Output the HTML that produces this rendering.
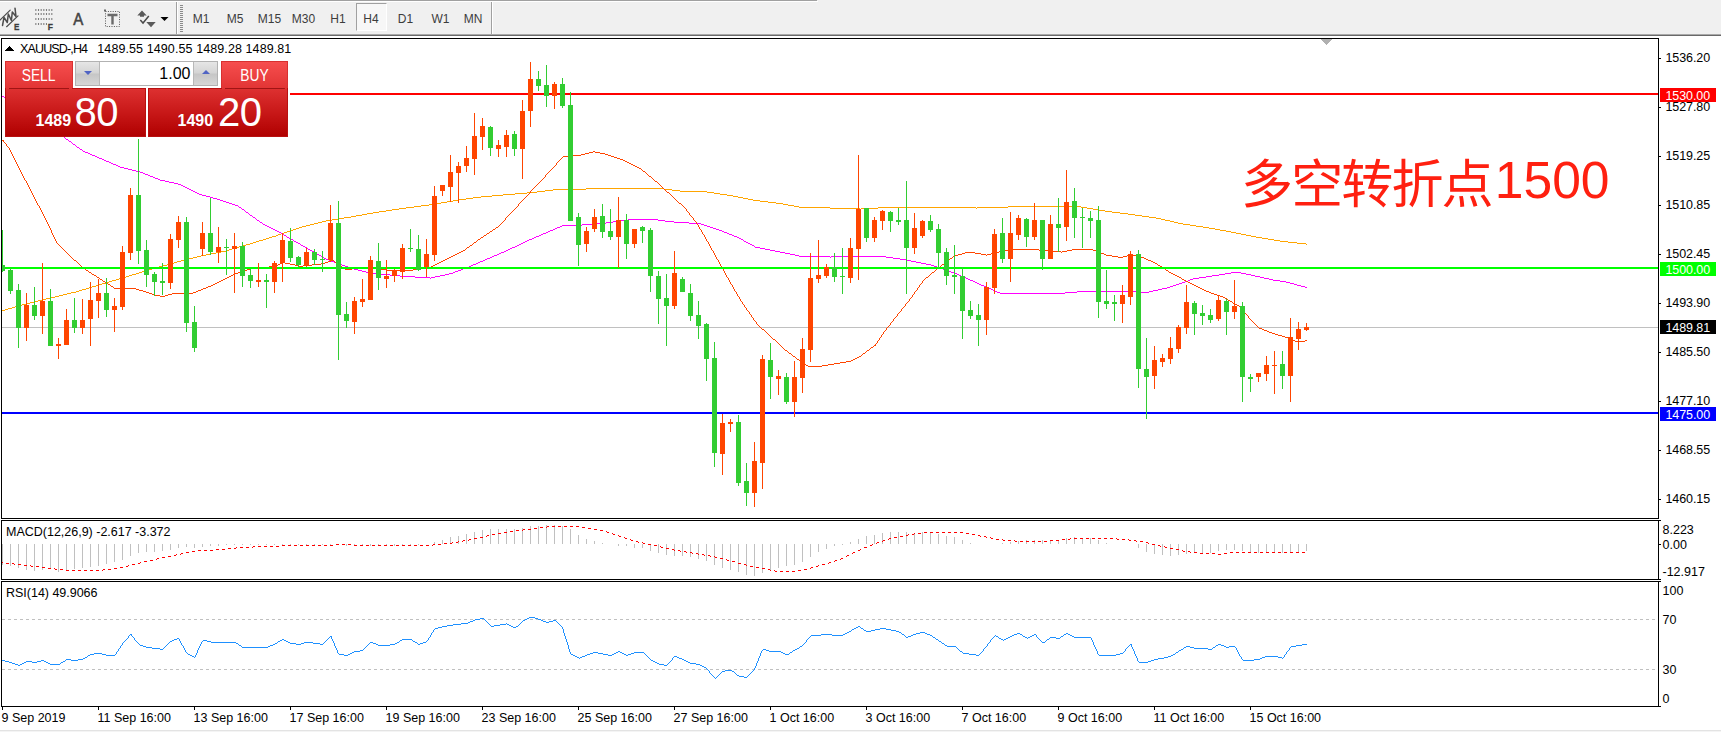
<!DOCTYPE html>
<html><head><meta charset="utf-8"><title>XAUUSD H4</title>
<style>
html,body{margin:0;padding:0;background:#fff;}
body{width:1721px;height:732px;overflow:hidden;position:relative;font-family:"Liberation Sans","Noto Sans CJK SC",sans-serif;}
#tb{position:absolute;left:0;top:0;width:1721px;height:34px;background:#f0f0f0;}
#tb .l0{position:absolute;left:0;top:0;width:817px;height:1px;background:#a0a0a0;}
#tb .l1{position:absolute;left:0;top:1px;width:818px;height:1px;background:#fff;}
#tbb1{position:absolute;left:0;top:34px;width:1721px;height:1px;background:#a9a9a9;}
#tbb2{position:absolute;left:0;top:35px;width:1721px;height:1px;background:#696969;}
.tf{position:absolute;top:12px;height:14px;line-height:14px;font-size:12px;color:#3c3c3c;text-align:center;width:34px;}
#h4b{position:absolute;left:356px;top:3px;width:31px;height:28px;border:1px solid;border-color:#a0a0a0 #fff #fff #a0a0a0;background:#f7f7f7;box-sizing:border-box;}
.sep{position:absolute;top:2px;width:1px;height:32px;background:#a0a0a0;}
.sepw{position:absolute;top:2px;width:1px;height:32px;background:#fff;}
#chart{position:absolute;left:0;top:0;}
text{font-family:"Liberation Sans","Noto Sans CJK SC",sans-serif;font-size:12.5px;fill:#000;}
#oct{position:absolute;left:5px;top:61px;width:283px;height:76px;}
#oct div{position:absolute;box-sizing:border-box;}
.btn{color:#fff;font-size:16px;text-align:center;line-height:27px;height:27px;top:0;background:linear-gradient(#f64e4e,#e23535);border:1px solid #d83030;border-bottom:none;}
.pr{top:27px;height:49px;background:linear-gradient(#dd3030,#c81818 50%,#b00000);border:1px solid #b81010;color:#fff;}
.sm{font-size:16px;font-weight:bold;bottom:8.8px;line-height:15px;}
.bg{font-size:40px;bottom:4.6px;line-height:40px;letter-spacing:-0.6px;}
#cn{position:absolute;left:1241px;top:149px;font-size:52px;line-height:72px;color:#ff2010;white-space:nowrap;letter-spacing:-1.85px;}
#cn span{font-size:51.6px;letter-spacing:0;margin-left:3px;position:relative;top:-5px}
</style></head><body>

<div id="tb"><div class="l0"></div><div class="l1"></div>
<svg width="180" height="34" style="position:absolute;left:0;top:0" fill="none">
<g stroke="#4c4c4c" stroke-width="1.2" stroke-linecap="round">
<path d="M0 20 L10.2 10.1 M6.6 26.7 L18 15.9"/>
<path d="M2.5 25.5 L4 17.3 L7.3 22.5 L8.3 14 L11.4 20.5 L12.3 12 L16 16.5 L15 8.2" stroke-width="1.5" stroke-linejoin="round"/>
</g>
<text x="14" y="29.8" textLength="5.4" lengthAdjust="spacingAndGlyphs" style="font-size:9.5px;font-weight:bold;fill:#3c3c3c;stroke:#3c3c3c;stroke-width:0.3">E</text>
<g stroke="#5a5a5a" stroke-width="1.5" stroke-dasharray="1.1,1.56">
<path d="M35.3 10 H52.5 M35.3 14 H52.5 M35.3 19 H52.5 M35.3 24 H47"/>
</g>
<text x="47.8" y="29.8" textLength="5.2" lengthAdjust="spacingAndGlyphs" style="font-size:9.5px;font-weight:bold;fill:#3c3c3c;stroke:#3c3c3c;stroke-width:0.3">F</text>
<text x="73.2" y="24.7" textLength="10" lengthAdjust="spacingAndGlyphs" style="font-size:16px;fill:#444;stroke:#444;stroke-width:0.55">A</text>
<rect x="105.5" y="11.5" width="14" height="15" stroke="#555" stroke-dasharray="1,1.4"/>
<rect x="104" y="9.5" width="2" height="2" fill="#666"/>
<path d="M107.5 15 H117.5 M112.5 15 V24.5" stroke="#6a6a6a" stroke-width="2.4"/>
<path d="M142 10.5 L146.7 15.5 H144 V16.7 H140 V15.5 H137.3 Z" fill="#5a5a5a"/>
<path d="M151 27.3 L155.7 22 H146.3 Z" fill="#5a5a5a"/>
<path d="M140.3 20 L143 23 L148.8 16" stroke="#4a4a4a" stroke-width="1.5"/>
<path d="M160.5 17 H168.5 L164.5 21 Z" fill="#000"/>
</svg>
<div class="sep" style="left:176px"></div><div class="sepw" style="left:177px"></div>
<div style="position:absolute;left:180px;top:5px;width:3px;height:28px;background:repeating-linear-gradient(#8a8a8a 0 1px,#f0f0f0 1px 2px)"></div>
<div id="h4b"></div>
<div class="tf" style="left:184px">M1</div>
<div class="tf" style="left:218px">M5</div>
<div class="tf" style="left:252.5px">M15</div>
<div class="tf" style="left:286.5px">M30</div>
<div class="tf" style="left:321px">H1</div>
<div class="tf" style="left:354px">H4</div>
<div class="tf" style="left:388.5px">D1</div>
<div class="tf" style="left:423.5px">W1</div>
<div class="tf" style="left:456px">MN</div>
<div class="sep" style="left:491px"></div><div class="sepw" style="left:492px"></div>
</div><div id="tbb1"></div><div id="tbb2"></div>
<svg id="chart" width="1721" height="732" viewBox="0 0 1721 732">
<g shape-rendering="crispEdges">
<rect x="2" y="327" width="1657" height="1" fill="#c0c0c0"/>
</g>
<path d="M2 310.5h3M5 309.5h3M8 308.5h4M12 307.5h3M15 306.5h4M19 305.5h3M22 304.5h4M26 303.5h4M30 302.5h4M34 301.5h4M38 300.5h4M42 299.5h4M46 298.5h5M51 297.5h4M55 296.5h4M59 295.5h4M63 294.5h4M67 293.5h4M71 292.5h5M76 291.5h3M79 290.5h3M82 289.5h4M86 288.5h3M89 287.5h3M92 286.5h4M96 285.5h3M99 284.5h3M102 283.5h4M106 282.5h3M109 281.5h3M112 280.5h4M116 279.5h3M119 278.5h3M122 277.5h4M126 276.5h3M129 275.5h3M132 274.5h4M136 273.5h3M139 272.5h3M142 271.5h4M146 270.5h3M149 269.5h3M152 268.5h4M156 267.5h3M159 266.5h4M163 265.5h4M167 264.5h3M170 263.5h4M174 262.5h3M177 261.5h4M181 260.5h4M185 259.5h4M189 258.5h4M193 257.5h4M197 256.5h4M201 255.5h5M206 254.5h5M211 253.5h5M216 252.5h5M221 251.5h5M226 250.5h3M229 249.5h3M232 248.5h4M236 247.5h3M239 246.5h4M243 245.5h3M246 244.5h4M250 243.5h3M253 242.5h3M256 241.5h3M259 240.5h4M263 239.5h3M266 238.5h3M269 237.5h3M272 236.5h4M276 235.5h2M278 234.5h3M281 233.5h3M284 232.5h3M287 231.5h3M290 230.5h3M293 229.5h3M296 228.5h3M299 227.5h3M302 226.5h4M306 225.5h4M310 224.5h4M314 223.5h4M318 222.5h4M322 221.5h4M326 220.5h6M332 219.5h6M338 218.5h6M344 217.5h7M351 216.5h5M356 215.5h6M362 214.5h5M367 213.5h6M373 212.5h6M379 211.5h7M386 210.5h6M392 209.5h7M399 208.5h7M406 207.5h8M414 206.5h7M421 205.5h8M429 204.5h6M435 203.5h6M441 202.5h6M447 201.5h6M453 200.5h6M459 199.5h7M466 198.5h7M473 197.5h8M481 196.5h11M492 195.5h11M503 194.5h12M515 193.5h12M527 192.5h10M537 191.5h8M545 190.5h8M553 189.5h33M586 188.5h78M664 189.5h8M672 190.5h8M680 191.5h27M707 192.5h7M714 193.5h6M720 194.5h7M727 195.5h6M733 196.5h5M738 197.5h5M743 198.5h5M748 199.5h5M753 200.5h7M760 201.5h8M768 202.5h8M776 203.5h7M783 204.5h5M788 205.5h6M794 206.5h5M799 207.5h31M830 208.5h30M860 209.5h1M861 208.5h17M878 207.5h98M976 208.5h1M977 207.5h31M1008 206.5h73M1081 207.5h6M1087 208.5h6M1093 209.5h6M1099 210.5h6M1105 211.5h7M1112 212.5h8M1120 213.5h8M1128 214.5h7M1135 215.5h7M1142 216.5h7M1149 217.5h7M1156 218.5h5M1161 219.5h4M1165 220.5h5M1170 221.5h4M1174 222.5h4M1178 223.5h5M1183 224.5h7M1190 225.5h6M1196 226.5h7M1203 227.5h6M1209 228.5h6M1215 229.5h5M1220 230.5h6M1226 231.5h5M1231 232.5h5M1236 233.5h5M1241 234.5h5M1246 235.5h5M1251 236.5h5M1256 237.5h6M1262 238.5h6M1268 239.5h6M1274 240.5h6M1280 241.5h8M1288 242.5h9M1297 243.5h9M1306 244.5h1" fill="none" stroke="#FFA500" stroke-width="1" shape-rendering="crispEdges" />
<path d="M2 96.5h2M4 97.5h1M5 98.5h2M7 99.5h1M8 100.5h2M10 101.5h1M11 102.5h2M13 103.5h1M14 104.5h2M16 105.5h1M17 106.5h2M19 107.5h1M20 108.5h2M22 109.5h1M23 110.5h2M25 111.5h1M26 112.5h2M28 113.5h1M29 114.5h2M31 115.5h1M32 116.5h2M34 117.5h1M35 118.5h2M37 119.5h1M38 120.5h2M40 121.5h1M41 122.5h2M43 123.5h1M44 124.5h2M46 125.5h1M47 126.5h2M49 127.5h1M50 128.5h2M52 129.5h1M53 130.5h2M55 131.5h1M56 132.5h2M58 133.5h1M59 134.5h2M61 135.5h1M62 136.5h2M64 137.5h1M65 138.5h1M66 139.5h2M68 140.5h1M69 141.5h2M71 142.5h1M72 143.5h1M73 144.5h2M75 145.5h1M76 146.5h1M77 147.5h2M79 148.5h1M80 149.5h2M82 150.5h1M83 151.5h2M85 152.5h3M88 153.5h2M90 154.5h2M92 155.5h3M95 156.5h2M97 157.5h2M99 158.5h3M102 159.5h2M104 160.5h2M106 161.5h3M109 162.5h2M111 163.5h2M113 164.5h3M116 165.5h2M118 166.5h2M120 167.5h4M124 168.5h4M128 169.5h4M132 170.5h4M136 171.5h4M140 172.5h3M143 173.5h2M145 174.5h3M148 175.5h2M150 176.5h3M153 177.5h2M155 178.5h3M158 179.5h2M160 180.5h5M165 181.5h4M169 182.5h5M174 183.5h4M178 184.5h3M181 185.5h2M183 186.5h2M185 187.5h2M187 188.5h2M189 189.5h2M191 190.5h2M193 191.5h2M195 192.5h2M197 193.5h2M199 194.5h3M202 195.5h4M206 196.5h4M210 197.5h3M213 198.5h4M217 199.5h3M220 200.5h3M223 201.5h3M226 202.5h3M229 203.5h3M232 204.5h3M235 205.5h3M238 206.5h1M239 207.5h2M241 208.5h1M242 209.5h2M244 210.5h1M245 211.5h1M246 212.5h2M248 213.5h1M249 214.5h1M250 215.5h2M252 216.5h1M253 217.5h2M255 218.5h1M256 219.5h1M257 220.5h2M259 221.5h1M260 222.5h2M262 223.5h1M263 224.5h2M265 225.5h2M267 226.5h2M269 227.5h2M271 228.5h2M273 229.5h2M275 230.5h2M277 231.5h2M279 232.5h2M281 233.5h1M282 234.5h2M284 235.5h2M286 236.5h1M287 237.5h2M289 238.5h2M291 239.5h2M293 240.5h1M294 241.5h2M296 242.5h2M298 243.5h2M300 244.5h1M301 245.5h2M303 246.5h2M305 247.5h2M307 248.5h1M308 249.5h2M310 250.5h2M312 251.5h2M314 252.5h1M315 253.5h2M317 254.5h2M319 255.5h2M321 256.5h1M322 257.5h2M324 258.5h2M326 259.5h3M329 260.5h2M331 261.5h3M334 262.5h2M336 263.5h3M339 264.5h3M342 265.5h3M345 266.5h3M348 267.5h2M350 268.5h4M354 269.5h4M358 270.5h4M362 271.5h4M366 272.5h4M370 273.5h10M380 274.5h10M390 275.5h10M400 276.5h15M415 277.5h15M430 278.5h1M431 277.5h4M435 276.5h5M440 275.5h5M445 274.5h4M449 273.5h4M453 272.5h2M455 271.5h3M458 270.5h3M461 269.5h2M463 268.5h3M466 267.5h3M469 266.5h2M471 265.5h2M473 264.5h3M476 263.5h2M478 262.5h2M480 261.5h3M483 260.5h2M485 259.5h2M487 258.5h3M490 257.5h2M492 256.5h2M494 255.5h3M497 254.5h2M499 253.5h2M501 252.5h3M504 251.5h2M506 250.5h2M508 249.5h2M510 248.5h2M512 247.5h3M515 246.5h2M517 245.5h2M519 244.5h2M521 243.5h2M523 242.5h2M525 241.5h2M527 240.5h2M529 239.5h3M532 238.5h2M534 237.5h2M536 236.5h3M539 235.5h2M541 234.5h2M543 233.5h3M546 232.5h2M548 231.5h2M550 230.5h3M553 229.5h2M555 228.5h2M557 227.5h3M560 226.5h2M562 225.5h20M582 224.5h12M594 223.5h12M606 222.5h7M613 221.5h8M621 220.5h7M628 219.5h30M658 220.5h7M665 221.5h9M674 222.5h15M689 223.5h12M701 224.5h3M704 225.5h3M707 226.5h3M710 227.5h3M713 228.5h3M716 229.5h3M719 230.5h3M722 231.5h2M724 232.5h3M727 233.5h2M729 234.5h3M732 235.5h2M734 236.5h3M737 237.5h2M739 238.5h2M741 239.5h2M743 240.5h1M744 241.5h2M746 242.5h2M748 243.5h2M750 244.5h2M752 245.5h2M754 246.5h1M755 247.5h5M760 248.5h5M765 249.5h5M770 250.5h5M775 251.5h5M780 252.5h5M785 253.5h5M790 254.5h5M795 255.5h4M799 256.5h31M830 257.5h1M831 256.5h55M886 257.5h7M893 258.5h7M900 259.5h6M906 260.5h5M911 261.5h5M916 262.5h5M921 263.5h5M926 264.5h5M931 265.5h3M934 266.5h3M937 267.5h3M940 268.5h3M943 269.5h3M946 270.5h3M949 271.5h2M951 272.5h3M954 273.5h3M957 274.5h2M959 275.5h2M961 276.5h3M964 277.5h2M966 278.5h2M968 279.5h2M970 280.5h3M973 281.5h2M975 282.5h2M977 283.5h2M979 284.5h2M981 285.5h3M984 286.5h2M986 287.5h2M988 288.5h3M991 289.5h2M993 290.5h2M995 291.5h2M997 292.5h3M1000 293.5h65M1065 292.5h12M1077 291.5h63M1140 292.5h9M1149 291.5h4M1153 290.5h5M1158 289.5h4M1162 288.5h5M1167 287.5h3M1170 286.5h3M1173 285.5h3M1176 284.5h3M1179 283.5h3M1182 282.5h3M1185 281.5h3M1188 280.5h2M1190 279.5h3M1193 278.5h6M1199 277.5h7M1206 276.5h6M1212 275.5h7M1219 274.5h6M1225 273.5h6M1231 272.5h10M1241 273.5h5M1246 274.5h5M1251 275.5h4M1255 276.5h5M1260 277.5h4M1264 278.5h5M1269 279.5h4M1273 280.5h7M1280 281.5h6M1286 282.5h4M1290 283.5h4M1294 284.5h3M1297 285.5h4M1301 286.5h4M1305 287.5h2" fill="none" stroke="#FF00FF" stroke-width="1" shape-rendering="crispEdges" />
<path d="M2 140.5h1M3.5 140v2M4 142.5h1M5 143.5h1M6.5 144v2M7 146.5h1M8 147.5h1M9.5 148v2M10.5 150v2M11.5 152v2M12.5 154v2M13.5 156v2M14.5 158v2M15.5 160v2M16.5 162v2M17.5 164v2M18.5 166v2M19.5 168v2M20.5 170v2M21.5 172v2M22.5 174v2M23.5 176v2M24.5 178v2M25 180.5h1M26.5 181v2M27.5 183v2M28.5 185v2M29.5 187v2M30.5 189v2M31.5 191v2M32.5 193v2M33.5 195v2M34.5 197v2M35.5 199v2M36.5 201v2M37.5 203v2M38 205.5h1M39.5 206v2M40.5 208v2M41.5 210v2M42.5 212v2M43.5 214v2M44.5 216v2M45.5 218v2M46.5 220v2M47.5 222v2M48.5 224v2M49.5 226v2M50.5 228v2M51.5 230v3M52.5 233v2M53.5 235v2M54.5 237v2M55.5 239v2M56.5 241v2M57 243.5h1M58 244.5h1M59 245.5h1M60 246.5h1M61 247.5h1M62 248.5h1M63 249.5h1M64 250.5h1M65 251.5h1M66 252.5h1M67 253.5h1M68 254.5h1M69 255.5h1M70 256.5h1M71 257.5h1M72 258.5h1M73 259.5h1M74 260.5h2M76 261.5h1M77 262.5h1M78 263.5h1M79 264.5h1M80 265.5h1M81 266.5h1M82 267.5h1M83 268.5h2M85 269.5h1M86 270.5h2M88 271.5h1M89 272.5h2M91 273.5h1M92 274.5h2M94 275.5h2M96 276.5h1M97 277.5h2M99 278.5h1M100 279.5h2M102 280.5h1M103 281.5h2M105 282.5h1M106 283.5h2M108 284.5h2M110 285.5h1M111 286.5h2M113 287.5h1M114 288.5h22M136 289.5h3M139 290.5h4M143 291.5h3M146 292.5h3M149 293.5h3M152 294.5h3M155 295.5h5M160 296.5h5M165 295.5h3M168 294.5h4M172 293.5h21M193 292.5h3M196 291.5h2M198 290.5h3M201 289.5h2M203 288.5h3M206 287.5h2M208 286.5h3M211 285.5h2M213 284.5h2M215 283.5h2M217 282.5h2M219 281.5h2M221 280.5h2M223 279.5h2M225 278.5h2M227 277.5h2M229 276.5h2M231 275.5h2M233 274.5h2M235 273.5h3M238 272.5h3M241 271.5h3M244 270.5h3M247 269.5h4M251 268.5h9M260 267.5h9M269 266.5h7M276 265.5h2M278 264.5h2M280 263.5h2M282 262.5h3M285 263.5h5M290 264.5h5M295 265.5h4M299 266.5h4M303 265.5h9M312 264.5h9M321 263.5h4M325 262.5h3M328 261.5h3M331 260.5h3M334 261.5h1M335 262.5h1M336 263.5h2M338 264.5h1M339 265.5h2M341 266.5h1M342 267.5h1M343 268.5h2M345 269.5h7M352 268.5h12M364 267.5h10M374 268.5h6M380 269.5h7M387 270.5h26M413 269.5h6M419 268.5h6M425 267.5h6M431 266.5h2M433 265.5h2M435 264.5h2M437 263.5h2M439 262.5h2M441 261.5h2M443 260.5h2M445 259.5h2M447 258.5h2M449 257.5h2M451 256.5h2M453 255.5h2M455 254.5h2M457 253.5h2M459 252.5h2M461 251.5h2M463 250.5h2M465 249.5h1M466 248.5h1M467 247.5h2M469 246.5h1M470 245.5h2M472 244.5h1M473 243.5h1M474 242.5h2M476 241.5h1M477 240.5h1M478 239.5h2M480 238.5h1M481 237.5h2M483 236.5h1M484 235.5h2M486 234.5h1M487 233.5h2M489 232.5h1M490 231.5h2M492 230.5h1M493 229.5h2M495 228.5h1M496 227.5h2M498 226.5h1M499 225.5h1M500 224.5h1M501 223.5h1M502 222.5h1M503 221.5h1M504 220.5h1M505.5 218v2M506 217.5h1M507 216.5h1M508 215.5h1M509 214.5h1M510 213.5h1M511 212.5h1M512 211.5h1M513 210.5h1M514 209.5h1M515 208.5h1M516 207.5h1M517 206.5h1M518.5 204v2M519 203.5h1M520 202.5h1M521 201.5h1M522 200.5h1M523 199.5h1M524 198.5h1M525 197.5h1M526 196.5h1M527 195.5h1M528 194.5h1M529 193.5h1M530.5 191v2M531 190.5h1M532 189.5h1M533 188.5h1M534 187.5h1M535 186.5h1M536 185.5h1M537 184.5h1M538 183.5h1M539 182.5h1M540 181.5h1M541 180.5h1M542 179.5h1M543 178.5h1M544 177.5h1M545.5 175v2M546 174.5h1M547 173.5h1M548 172.5h1M549 171.5h1M550 170.5h1M551 169.5h1M552 168.5h1M553 167.5h1M554 166.5h1M555 165.5h1M556.5 163v2M557 162.5h1M558 161.5h1M559 160.5h1M560 159.5h1M561 158.5h1M562 157.5h1M563 156.5h9M572 155.5h9M581 154.5h4M585 153.5h4M589 152.5h4M593 151.5h2M595 152.5h5M600 153.5h5M605 154.5h3M608 155.5h3M611 156.5h3M614 157.5h3M617 158.5h3M620 159.5h3M623 160.5h2M625 161.5h2M627 162.5h2M629 163.5h2M631 164.5h2M633 165.5h2M635 166.5h2M637 167.5h2M639 168.5h2M641 169.5h1M642 170.5h1M643 171.5h2M645 172.5h1M646 173.5h1M647 174.5h1M648 175.5h1M649 176.5h2M651 177.5h1M652 178.5h1M653 179.5h1M654 180.5h1M655 181.5h2M657 182.5h1M658 183.5h1M659 184.5h1M660 185.5h1M661 186.5h1M662 187.5h1M663 188.5h1M664 189.5h1M665 190.5h1M666 191.5h1M667 192.5h2M669 193.5h1M670 194.5h1M671 195.5h1M672 196.5h1M673 197.5h1M674 198.5h1M675 199.5h1M676 200.5h1M677 201.5h1M678 202.5h1M679 203.5h2M681 204.5h1M682 205.5h1M683 206.5h1M684 207.5h1M685 208.5h1M686.5 209v2M687 211.5h1M688 212.5h1M689.5 213v2M690 215.5h1M691 216.5h1M692 217.5h1M693.5 218v2M694 220.5h1M695 221.5h1M696.5 222v2M697 224.5h1M698.5 225v2M699.5 227v2M700 229.5h1M701.5 230v2M702.5 232v2M703 234.5h1M704.5 235v2M705.5 237v2M706.5 239v2M707 241.5h1M708.5 242v2M709.5 244v2M710.5 246v2M711.5 248v2M712 250.5h1M713.5 251v2M714.5 253v2M715.5 255v2M716.5 257v2M717 259.5h1M718.5 260v2M719.5 262v2M720.5 264v2M721.5 266v2M722 268.5h1M723.5 269v2M724.5 271v2M725.5 273v2M726.5 275v2M727 277.5h1M728.5 278v2M729.5 280v2M730.5 282v2M731 284.5h1M732.5 285v2M733.5 287v2M734.5 289v2M735 291.5h1M736.5 292v2M737.5 294v2M738 296.5h1M739.5 297v2M740.5 299v2M741 301.5h1M742.5 302v2M743 304.5h1M744.5 305v2M745 307.5h1M746.5 308v2M747 310.5h1M748 311.5h1M749.5 312v2M750 314.5h1M751.5 315v2M752 317.5h1M753.5 318v2M754 320.5h1M755 321.5h1M756.5 322v2M757 324.5h1M758 325.5h1M759 326.5h1M760 327.5h1M761 328.5h1M762 329.5h2M764 330.5h1M765 331.5h1M766 332.5h1M767 333.5h1M768 334.5h1M769 335.5h1M770 336.5h1M771 337.5h1M772 338.5h1M773 339.5h2M775 340.5h1M776 341.5h1M777 342.5h1M778 343.5h1M779 344.5h1M780 345.5h1M781 346.5h1M782 347.5h1M783 348.5h1M784 349.5h1M785 350.5h2M787 351.5h1M788 352.5h1M789 353.5h2M791 354.5h1M792 355.5h1M793 356.5h2M795 357.5h1M796 358.5h1M797 359.5h2M799 360.5h1M800 361.5h2M802 362.5h1M803 363.5h2M805 364.5h1M806 365.5h2M808 366.5h14M822 365.5h6M828 364.5h6M834 363.5h6M840 362.5h6M846 361.5h5M851 360.5h2M853 359.5h2M855 358.5h2M857 357.5h2M859 356.5h2M861 355.5h1M862 354.5h1M863 353.5h2M865 352.5h1M866 351.5h1M867 350.5h2M869 349.5h1M870 348.5h1M871 347.5h2M873 346.5h1M874 345.5h1M875.5 344v2M876 343.5h1M877.5 341v2M878 340.5h1M879.5 338v2M880 337.5h1M881.5 335v2M882 334.5h1M883.5 332v2M884 331.5h1M885 330.5h1M886.5 328v2M887 327.5h1M888 326.5h1M889 325.5h1M890.5 323v2M891 322.5h1M892 321.5h1M893.5 319v2M894 318.5h1M895 317.5h1M896 316.5h1M897.5 314v2M898 313.5h1M899 312.5h1M900 311.5h1M901.5 309v2M902 308.5h1M903 307.5h1M904 306.5h1M905.5 304v2M906 303.5h1M907 302.5h1M908 301.5h1M909.5 299v2M910 298.5h1M911 297.5h1M912.5 295v2M913 294.5h1M914.5 292v2M915 291.5h1M916 290.5h1M917.5 288v2M918 287.5h1M919.5 285v2M920 284.5h1M921 283.5h1M922.5 281v2M923 280.5h1M924 279.5h1M925 278.5h1M926 277.5h2M928 276.5h1M929 275.5h1M930 274.5h1M931 273.5h1M932 272.5h2M934 271.5h1M935 270.5h1M936 269.5h1M937 268.5h1M938 267.5h2M940 266.5h1M941 265.5h1M942 264.5h2M944 263.5h1M945 262.5h1M946 261.5h2M948 260.5h1M949 259.5h1M950 258.5h2M952 257.5h1M953 256.5h2M955 255.5h3M958 254.5h4M962 253.5h3M965 252.5h10M975 253.5h6M981 254.5h5M986 255.5h1M987 254.5h4M991 253.5h4M995 252.5h4M999 251.5h5M1004 250.5h8M1012 249.5h27M1039 250.5h10M1049 251.5h12M1061 252.5h1M1062 251.5h5M1067 250.5h5M1072 249.5h21M1093 250.5h3M1096 251.5h2M1098 252.5h3M1101 253.5h3M1104 254.5h2M1106 255.5h6M1112 256.5h6M1118 257.5h5M1123 256.5h4M1127 255.5h3M1130 254.5h3M1133 255.5h4M1137 256.5h3M1140 257.5h4M1144 258.5h2M1146 259.5h2M1148 260.5h3M1151 261.5h2M1153 262.5h2M1155 263.5h2M1157 264.5h1M1158 265.5h2M1160 266.5h2M1162 267.5h1M1163 268.5h2M1165 269.5h1M1166 270.5h2M1168 271.5h1M1169 272.5h2M1171 273.5h2M1173 274.5h2M1175 275.5h2M1177 276.5h2M1179 277.5h2M1181 278.5h1M1182 279.5h2M1184 280.5h2M1186 281.5h2M1188 282.5h2M1190 283.5h2M1192 284.5h2M1194 285.5h2M1196 286.5h2M1198 287.5h2M1200 288.5h2M1202 289.5h2M1204 290.5h2M1206 291.5h3M1209 292.5h2M1211 293.5h3M1214 294.5h3M1217 295.5h3M1220 296.5h3M1223 297.5h2M1225 298.5h2M1227 299.5h1M1228 300.5h2M1230 301.5h2M1232 302.5h1M1233 303.5h2M1235 304.5h2M1237 305.5h2M1239 306.5h1M1240.5 307v2M1241 309.5h1M1242 310.5h1M1243 311.5h1M1244 312.5h1M1245 313.5h1M1246 314.5h1M1247 315.5h1M1248.5 316v2M1249 318.5h1M1250 319.5h1M1251 320.5h1M1252 321.5h1M1253 322.5h1M1254 323.5h1M1255 324.5h1M1256 325.5h1M1257 326.5h1M1258 327.5h1M1259 328.5h3M1262 329.5h2M1264 330.5h3M1267 331.5h2M1269 332.5h3M1272 333.5h3M1275 334.5h3M1278 335.5h4M1282 336.5h3M1285 337.5h3M1288 338.5h2M1290 339.5h3M1293 340.5h2M1295 341.5h10M1305 340.5h2" fill="none" stroke="#FF4500" stroke-width="1" shape-rendering="crispEdges" />
<g shape-rendering="crispEdges">
<rect x="290" y="93" width="1369" height="2" fill="#FF0000"/>
<rect x="2" y="267" width="1657" height="2" fill="#00FF00"/>
<rect x="2" y="412" width="1657" height="2" fill="#0000FF"/>
<rect x="2" y="230" width="1" height="42" fill="#32CD32"/>
<rect x="2" y="265" width="3" height="6" fill="#32CD32"/>
<rect x="10" y="268" width="1" height="26" fill="#32CD32"/>
<rect x="8" y="270" width="5" height="21" fill="#32CD32"/>
<rect x="18" y="284" width="1" height="64" fill="#32CD32"/>
<rect x="16" y="290" width="5" height="38" fill="#32CD32"/>
<rect x="26" y="293" width="1" height="48" fill="#FF4500"/>
<rect x="24" y="305" width="5" height="23" fill="#FF4500"/>
<rect x="34" y="287" width="1" height="33" fill="#32CD32"/>
<rect x="32" y="305" width="5" height="11" fill="#32CD32"/>
<rect x="42" y="263" width="1" height="71" fill="#FF4500"/>
<rect x="40" y="301" width="5" height="15" fill="#FF4500"/>
<rect x="50" y="289" width="1" height="57" fill="#32CD32"/>
<rect x="48" y="301" width="5" height="45" fill="#32CD32"/>
<rect x="58" y="338" width="1" height="21" fill="#FF4500"/>
<rect x="56" y="344" width="5" height="2" fill="#FF4500"/>
<rect x="66" y="309" width="1" height="36" fill="#FF4500"/>
<rect x="64" y="320" width="5" height="25" fill="#FF4500"/>
<rect x="74" y="298" width="1" height="35" fill="#32CD32"/>
<rect x="72" y="320" width="5" height="8" fill="#32CD32"/>
<rect x="82" y="299" width="1" height="35" fill="#FF4500"/>
<rect x="80" y="320" width="5" height="8" fill="#FF4500"/>
<rect x="90" y="282" width="1" height="64" fill="#FF4500"/>
<rect x="88" y="300" width="5" height="19" fill="#FF4500"/>
<rect x="98" y="279" width="1" height="39" fill="#FF4500"/>
<rect x="96" y="293" width="5" height="8" fill="#FF4500"/>
<rect x="106" y="278" width="1" height="39" fill="#32CD32"/>
<rect x="104" y="293" width="5" height="17" fill="#32CD32"/>
<rect x="114" y="298" width="1" height="34" fill="#FF4500"/>
<rect x="112" y="306" width="5" height="4" fill="#FF4500"/>
<rect x="122" y="246" width="1" height="64" fill="#FF4500"/>
<rect x="120" y="252" width="5" height="55" fill="#FF4500"/>
<rect x="130" y="188" width="1" height="72" fill="#FF4500"/>
<rect x="128" y="195" width="5" height="58" fill="#FF4500"/>
<rect x="138" y="139" width="1" height="125" fill="#32CD32"/>
<rect x="136" y="195" width="5" height="56" fill="#32CD32"/>
<rect x="146" y="240" width="1" height="47" fill="#32CD32"/>
<rect x="144" y="250" width="5" height="25" fill="#32CD32"/>
<rect x="154" y="272" width="1" height="24" fill="#32CD32"/>
<rect x="152" y="274" width="5" height="8" fill="#32CD32"/>
<rect x="162" y="263" width="1" height="32" fill="#32CD32"/>
<rect x="160" y="281" width="5" height="2" fill="#32CD32"/>
<rect x="170" y="234" width="1" height="55" fill="#FF4500"/>
<rect x="168" y="239" width="5" height="44" fill="#FF4500"/>
<rect x="178" y="216" width="1" height="32" fill="#FF4500"/>
<rect x="176" y="222" width="5" height="18" fill="#FF4500"/>
<rect x="186" y="217" width="1" height="115" fill="#32CD32"/>
<rect x="184" y="222" width="5" height="101" fill="#32CD32"/>
<rect x="194" y="306" width="1" height="46" fill="#32CD32"/>
<rect x="192" y="322" width="5" height="26" fill="#32CD32"/>
<rect x="202" y="222" width="1" height="34" fill="#FF4500"/>
<rect x="200" y="233" width="5" height="16" fill="#FF4500"/>
<rect x="210" y="198" width="1" height="57" fill="#32CD32"/>
<rect x="208" y="233" width="5" height="19" fill="#32CD32"/>
<rect x="218" y="227" width="1" height="36" fill="#FF4500"/>
<rect x="216" y="247" width="5" height="5" fill="#FF4500"/>
<rect x="226" y="239" width="1" height="36" fill="#32CD32"/>
<rect x="224" y="247" width="5" height="1" fill="#32CD32"/>
<rect x="234" y="233" width="1" height="60" fill="#FF4500"/>
<rect x="232" y="246" width="5" height="3" fill="#FF4500"/>
<rect x="242" y="242" width="1" height="45" fill="#32CD32"/>
<rect x="240" y="246" width="5" height="30" fill="#32CD32"/>
<rect x="250" y="269" width="1" height="19" fill="#32CD32"/>
<rect x="248" y="275" width="5" height="6" fill="#32CD32"/>
<rect x="258" y="263" width="1" height="24" fill="#FF4500"/>
<rect x="256" y="280" width="5" height="2" fill="#FF4500"/>
<rect x="266" y="274" width="1" height="34" fill="#32CD32"/>
<rect x="264" y="280" width="5" height="2" fill="#32CD32"/>
<rect x="274" y="261" width="1" height="32" fill="#FF4500"/>
<rect x="272" y="263" width="5" height="19" fill="#FF4500"/>
<rect x="282" y="233" width="1" height="49" fill="#FF4500"/>
<rect x="280" y="240" width="5" height="23" fill="#FF4500"/>
<rect x="290" y="228" width="1" height="34" fill="#32CD32"/>
<rect x="288" y="241" width="5" height="17" fill="#32CD32"/>
<rect x="298" y="256" width="1" height="11" fill="#32CD32"/>
<rect x="296" y="257" width="5" height="8" fill="#32CD32"/>
<rect x="306" y="248" width="1" height="19" fill="#FF4500"/>
<rect x="304" y="252" width="5" height="13" fill="#FF4500"/>
<rect x="314" y="249" width="1" height="16" fill="#32CD32"/>
<rect x="312" y="252" width="5" height="8" fill="#32CD32"/>
<rect x="322" y="251" width="1" height="21" fill="#32CD32"/>
<rect x="320" y="259" width="5" height="1" fill="#32CD32"/>
<rect x="330" y="205" width="1" height="56" fill="#FF4500"/>
<rect x="328" y="223" width="5" height="37" fill="#FF4500"/>
<rect x="338" y="201" width="1" height="159" fill="#32CD32"/>
<rect x="336" y="223" width="5" height="92" fill="#32CD32"/>
<rect x="346" y="302" width="1" height="26" fill="#32CD32"/>
<rect x="344" y="314" width="5" height="7" fill="#32CD32"/>
<rect x="354" y="297" width="1" height="37" fill="#FF4500"/>
<rect x="352" y="301" width="5" height="21" fill="#FF4500"/>
<rect x="362" y="279" width="1" height="28" fill="#FF4500"/>
<rect x="360" y="299" width="5" height="3" fill="#FF4500"/>
<rect x="370" y="256" width="1" height="44" fill="#FF4500"/>
<rect x="368" y="260" width="5" height="40" fill="#FF4500"/>
<rect x="378" y="243" width="1" height="47" fill="#32CD32"/>
<rect x="376" y="261" width="5" height="17" fill="#32CD32"/>
<rect x="386" y="260" width="1" height="28" fill="#FF4500"/>
<rect x="384" y="276" width="5" height="3" fill="#FF4500"/>
<rect x="394" y="269" width="1" height="13" fill="#FF4500"/>
<rect x="392" y="270" width="5" height="6" fill="#FF4500"/>
<rect x="402" y="244" width="1" height="35" fill="#FF4500"/>
<rect x="400" y="248" width="5" height="24" fill="#FF4500"/>
<rect x="410" y="229" width="1" height="23" fill="#32CD32"/>
<rect x="408" y="248" width="5" height="1" fill="#32CD32"/>
<rect x="418" y="235" width="1" height="36" fill="#32CD32"/>
<rect x="416" y="249" width="5" height="21" fill="#32CD32"/>
<rect x="426" y="239" width="1" height="38" fill="#FF4500"/>
<rect x="424" y="254" width="5" height="13" fill="#FF4500"/>
<rect x="434" y="186" width="1" height="75" fill="#FF4500"/>
<rect x="432" y="196" width="5" height="59" fill="#FF4500"/>
<rect x="442" y="185" width="1" height="11" fill="#FF4500"/>
<rect x="440" y="185" width="5" height="6" fill="#FF4500"/>
<rect x="450" y="155" width="1" height="47" fill="#FF4500"/>
<rect x="448" y="172" width="5" height="15" fill="#FF4500"/>
<rect x="458" y="162" width="1" height="41" fill="#FF4500"/>
<rect x="456" y="166" width="5" height="7" fill="#FF4500"/>
<rect x="466" y="146" width="1" height="26" fill="#FF4500"/>
<rect x="464" y="158" width="5" height="8" fill="#FF4500"/>
<rect x="474" y="113" width="1" height="62" fill="#FF4500"/>
<rect x="472" y="136" width="5" height="23" fill="#FF4500"/>
<rect x="482" y="118" width="1" height="32" fill="#FF4500"/>
<rect x="480" y="126" width="5" height="11" fill="#FF4500"/>
<rect x="490" y="126" width="1" height="30" fill="#32CD32"/>
<rect x="488" y="127" width="5" height="21" fill="#32CD32"/>
<rect x="498" y="140" width="1" height="17" fill="#FF4500"/>
<rect x="496" y="145" width="5" height="4" fill="#FF4500"/>
<rect x="506" y="130" width="1" height="27" fill="#FF4500"/>
<rect x="504" y="135" width="5" height="12" fill="#FF4500"/>
<rect x="514" y="131" width="1" height="25" fill="#32CD32"/>
<rect x="512" y="134" width="5" height="15" fill="#32CD32"/>
<rect x="522" y="100" width="1" height="79" fill="#FF4500"/>
<rect x="520" y="111" width="5" height="38" fill="#FF4500"/>
<rect x="530" y="62" width="1" height="65" fill="#FF4500"/>
<rect x="528" y="79" width="5" height="32" fill="#FF4500"/>
<rect x="538" y="71" width="1" height="20" fill="#32CD32"/>
<rect x="536" y="79" width="5" height="7" fill="#32CD32"/>
<rect x="546" y="65" width="1" height="42" fill="#32CD32"/>
<rect x="544" y="85" width="5" height="11" fill="#32CD32"/>
<rect x="554" y="82" width="1" height="27" fill="#FF4500"/>
<rect x="552" y="84" width="5" height="12" fill="#FF4500"/>
<rect x="562" y="78" width="1" height="30" fill="#32CD32"/>
<rect x="560" y="84" width="5" height="22" fill="#32CD32"/>
<rect x="570" y="92" width="1" height="129" fill="#32CD32"/>
<rect x="568" y="105" width="5" height="116" fill="#32CD32"/>
<rect x="578" y="213" width="1" height="53" fill="#32CD32"/>
<rect x="576" y="217" width="5" height="28" fill="#32CD32"/>
<rect x="586" y="227" width="1" height="25" fill="#FF4500"/>
<rect x="584" y="231" width="5" height="13" fill="#FF4500"/>
<rect x="594" y="209" width="1" height="23" fill="#FF4500"/>
<rect x="592" y="217" width="5" height="12" fill="#FF4500"/>
<rect x="602" y="204" width="1" height="34" fill="#32CD32"/>
<rect x="600" y="216" width="5" height="16" fill="#32CD32"/>
<rect x="610" y="209" width="1" height="31" fill="#32CD32"/>
<rect x="608" y="231" width="5" height="6" fill="#32CD32"/>
<rect x="618" y="197" width="1" height="71" fill="#FF4500"/>
<rect x="616" y="220" width="5" height="17" fill="#FF4500"/>
<rect x="626" y="214" width="1" height="45" fill="#32CD32"/>
<rect x="624" y="220" width="5" height="24" fill="#32CD32"/>
<rect x="634" y="229" width="1" height="19" fill="#FF4500"/>
<rect x="632" y="229" width="5" height="15" fill="#FF4500"/>
<rect x="642" y="226" width="1" height="17" fill="#32CD32"/>
<rect x="640" y="227" width="5" height="4" fill="#32CD32"/>
<rect x="650" y="228" width="1" height="64" fill="#32CD32"/>
<rect x="648" y="230" width="5" height="46" fill="#32CD32"/>
<rect x="658" y="271" width="1" height="53" fill="#32CD32"/>
<rect x="656" y="276" width="5" height="23" fill="#32CD32"/>
<rect x="666" y="274" width="1" height="72" fill="#32CD32"/>
<rect x="664" y="298" width="5" height="8" fill="#32CD32"/>
<rect x="674" y="251" width="1" height="58" fill="#FF4500"/>
<rect x="672" y="273" width="5" height="33" fill="#FF4500"/>
<rect x="682" y="277" width="1" height="15" fill="#32CD32"/>
<rect x="680" y="279" width="5" height="13" fill="#32CD32"/>
<rect x="690" y="284" width="1" height="37" fill="#32CD32"/>
<rect x="688" y="293" width="5" height="23" fill="#32CD32"/>
<rect x="698" y="301" width="1" height="38" fill="#32CD32"/>
<rect x="696" y="315" width="5" height="11" fill="#32CD32"/>
<rect x="706" y="323" width="1" height="58" fill="#32CD32"/>
<rect x="704" y="324" width="5" height="35" fill="#32CD32"/>
<rect x="714" y="342" width="1" height="125" fill="#32CD32"/>
<rect x="712" y="358" width="5" height="95" fill="#32CD32"/>
<rect x="722" y="414" width="1" height="61" fill="#FF4500"/>
<rect x="720" y="423" width="5" height="31" fill="#FF4500"/>
<rect x="730" y="419" width="1" height="13" fill="#FF4500"/>
<rect x="728" y="422" width="5" height="2" fill="#FF4500"/>
<rect x="738" y="415" width="1" height="71" fill="#32CD32"/>
<rect x="736" y="422" width="5" height="61" fill="#32CD32"/>
<rect x="746" y="463" width="1" height="43" fill="#32CD32"/>
<rect x="744" y="481" width="5" height="12" fill="#32CD32"/>
<rect x="754" y="442" width="1" height="65" fill="#FF4500"/>
<rect x="752" y="461" width="5" height="32" fill="#FF4500"/>
<rect x="762" y="355" width="1" height="134" fill="#FF4500"/>
<rect x="760" y="359" width="5" height="104" fill="#FF4500"/>
<rect x="770" y="343" width="1" height="56" fill="#32CD32"/>
<rect x="768" y="360" width="5" height="17" fill="#32CD32"/>
<rect x="778" y="370" width="1" height="25" fill="#FF4500"/>
<rect x="776" y="376" width="5" height="3" fill="#FF4500"/>
<rect x="786" y="373" width="1" height="31" fill="#32CD32"/>
<rect x="784" y="377" width="5" height="25" fill="#32CD32"/>
<rect x="794" y="361" width="1" height="56" fill="#FF4500"/>
<rect x="792" y="377" width="5" height="25" fill="#FF4500"/>
<rect x="802" y="338" width="1" height="55" fill="#FF4500"/>
<rect x="800" y="349" width="5" height="29" fill="#FF4500"/>
<rect x="810" y="253" width="1" height="109" fill="#FF4500"/>
<rect x="808" y="278" width="5" height="72" fill="#FF4500"/>
<rect x="818" y="240" width="1" height="43" fill="#FF4500"/>
<rect x="816" y="275" width="5" height="4" fill="#FF4500"/>
<rect x="826" y="264" width="1" height="14" fill="#FF4500"/>
<rect x="824" y="267" width="5" height="9" fill="#FF4500"/>
<rect x="834" y="253" width="1" height="29" fill="#32CD32"/>
<rect x="832" y="267" width="5" height="10" fill="#32CD32"/>
<rect x="842" y="248" width="1" height="46" fill="#32CD32"/>
<rect x="840" y="276" width="5" height="1" fill="#32CD32"/>
<rect x="850" y="238" width="1" height="45" fill="#FF4500"/>
<rect x="848" y="248" width="5" height="30" fill="#FF4500"/>
<rect x="858" y="155" width="1" height="125" fill="#FF4500"/>
<rect x="856" y="209" width="5" height="40" fill="#FF4500"/>
<rect x="866" y="208" width="1" height="34" fill="#32CD32"/>
<rect x="864" y="208" width="5" height="30" fill="#32CD32"/>
<rect x="874" y="217" width="1" height="25" fill="#FF4500"/>
<rect x="872" y="220" width="5" height="18" fill="#FF4500"/>
<rect x="882" y="210" width="1" height="20" fill="#FF4500"/>
<rect x="880" y="211" width="5" height="10" fill="#FF4500"/>
<rect x="890" y="211" width="1" height="21" fill="#32CD32"/>
<rect x="888" y="212" width="5" height="9" fill="#32CD32"/>
<rect x="898" y="208" width="1" height="17" fill="#32CD32"/>
<rect x="896" y="220" width="5" height="2" fill="#32CD32"/>
<rect x="906" y="181" width="1" height="113" fill="#32CD32"/>
<rect x="904" y="220" width="5" height="28" fill="#32CD32"/>
<rect x="914" y="213" width="1" height="41" fill="#FF4500"/>
<rect x="912" y="228" width="5" height="20" fill="#FF4500"/>
<rect x="922" y="220" width="1" height="18" fill="#FF4500"/>
<rect x="920" y="221" width="5" height="15" fill="#FF4500"/>
<rect x="930" y="215" width="1" height="17" fill="#32CD32"/>
<rect x="928" y="221" width="5" height="9" fill="#32CD32"/>
<rect x="938" y="224" width="1" height="44" fill="#32CD32"/>
<rect x="936" y="229" width="5" height="24" fill="#32CD32"/>
<rect x="946" y="248" width="1" height="37" fill="#32CD32"/>
<rect x="944" y="252" width="5" height="24" fill="#32CD32"/>
<rect x="954" y="245" width="1" height="49" fill="#32CD32"/>
<rect x="952" y="275" width="5" height="2" fill="#32CD32"/>
<rect x="962" y="267" width="1" height="72" fill="#32CD32"/>
<rect x="960" y="276" width="5" height="35" fill="#32CD32"/>
<rect x="970" y="301" width="1" height="18" fill="#32CD32"/>
<rect x="968" y="310" width="5" height="6" fill="#32CD32"/>
<rect x="978" y="304" width="1" height="42" fill="#32CD32"/>
<rect x="976" y="315" width="5" height="5" fill="#32CD32"/>
<rect x="986" y="282" width="1" height="53" fill="#FF4500"/>
<rect x="984" y="287" width="5" height="33" fill="#FF4500"/>
<rect x="994" y="229" width="1" height="65" fill="#FF4500"/>
<rect x="992" y="234" width="5" height="54" fill="#FF4500"/>
<rect x="1002" y="218" width="1" height="45" fill="#32CD32"/>
<rect x="1000" y="233" width="5" height="26" fill="#32CD32"/>
<rect x="1010" y="212" width="1" height="70" fill="#FF4500"/>
<rect x="1008" y="233" width="5" height="26" fill="#FF4500"/>
<rect x="1018" y="215" width="1" height="25" fill="#FF4500"/>
<rect x="1016" y="218" width="5" height="17" fill="#FF4500"/>
<rect x="1026" y="218" width="1" height="29" fill="#32CD32"/>
<rect x="1024" y="219" width="5" height="18" fill="#32CD32"/>
<rect x="1034" y="203" width="1" height="37" fill="#FF4500"/>
<rect x="1032" y="220" width="5" height="17" fill="#FF4500"/>
<rect x="1042" y="220" width="1" height="50" fill="#32CD32"/>
<rect x="1040" y="220" width="5" height="39" fill="#32CD32"/>
<rect x="1050" y="215" width="1" height="44" fill="#FF4500"/>
<rect x="1048" y="224" width="5" height="35" fill="#FF4500"/>
<rect x="1058" y="198" width="1" height="54" fill="#32CD32"/>
<rect x="1056" y="224" width="5" height="4" fill="#32CD32"/>
<rect x="1066" y="170" width="1" height="71" fill="#FF4500"/>
<rect x="1064" y="202" width="5" height="25" fill="#FF4500"/>
<rect x="1074" y="188" width="1" height="50" fill="#32CD32"/>
<rect x="1072" y="201" width="5" height="17" fill="#32CD32"/>
<rect x="1082" y="208" width="1" height="40" fill="#32CD32"/>
<rect x="1080" y="217" width="5" height="1" fill="#32CD32"/>
<rect x="1090" y="211" width="1" height="27" fill="#32CD32"/>
<rect x="1088" y="218" width="5" height="3" fill="#32CD32"/>
<rect x="1098" y="206" width="1" height="112" fill="#32CD32"/>
<rect x="1096" y="220" width="5" height="82" fill="#32CD32"/>
<rect x="1106" y="270" width="1" height="39" fill="#32CD32"/>
<rect x="1104" y="301" width="5" height="3" fill="#32CD32"/>
<rect x="1114" y="295" width="1" height="26" fill="#32CD32"/>
<rect x="1112" y="302" width="5" height="2" fill="#32CD32"/>
<rect x="1122" y="285" width="1" height="38" fill="#FF4500"/>
<rect x="1120" y="295" width="5" height="9" fill="#FF4500"/>
<rect x="1130" y="251" width="1" height="54" fill="#FF4500"/>
<rect x="1128" y="254" width="5" height="43" fill="#FF4500"/>
<rect x="1138" y="250" width="1" height="138" fill="#32CD32"/>
<rect x="1136" y="254" width="5" height="115" fill="#32CD32"/>
<rect x="1146" y="338" width="1" height="81" fill="#32CD32"/>
<rect x="1144" y="369" width="5" height="8" fill="#32CD32"/>
<rect x="1154" y="346" width="1" height="43" fill="#FF4500"/>
<rect x="1152" y="360" width="5" height="16" fill="#FF4500"/>
<rect x="1162" y="354" width="1" height="13" fill="#FF4500"/>
<rect x="1160" y="358" width="5" height="4" fill="#FF4500"/>
<rect x="1170" y="337" width="1" height="27" fill="#FF4500"/>
<rect x="1168" y="348" width="5" height="11" fill="#FF4500"/>
<rect x="1178" y="325" width="1" height="28" fill="#FF4500"/>
<rect x="1176" y="327" width="5" height="22" fill="#FF4500"/>
<rect x="1186" y="285" width="1" height="49" fill="#FF4500"/>
<rect x="1184" y="302" width="5" height="26" fill="#FF4500"/>
<rect x="1194" y="301" width="1" height="34" fill="#32CD32"/>
<rect x="1192" y="303" width="5" height="11" fill="#32CD32"/>
<rect x="1202" y="305" width="1" height="20" fill="#32CD32"/>
<rect x="1200" y="313" width="5" height="3" fill="#32CD32"/>
<rect x="1210" y="309" width="1" height="14" fill="#32CD32"/>
<rect x="1208" y="315" width="5" height="5" fill="#32CD32"/>
<rect x="1218" y="295" width="1" height="26" fill="#FF4500"/>
<rect x="1216" y="300" width="5" height="19" fill="#FF4500"/>
<rect x="1226" y="299" width="1" height="36" fill="#32CD32"/>
<rect x="1224" y="301" width="5" height="11" fill="#32CD32"/>
<rect x="1234" y="280" width="1" height="39" fill="#FF4500"/>
<rect x="1232" y="306" width="5" height="6" fill="#FF4500"/>
<rect x="1242" y="302" width="1" height="100" fill="#32CD32"/>
<rect x="1240" y="306" width="5" height="71" fill="#32CD32"/>
<rect x="1250" y="374" width="1" height="18" fill="#32CD32"/>
<rect x="1248" y="377" width="5" height="2" fill="#32CD32"/>
<rect x="1258" y="373" width="1" height="9" fill="#FF4500"/>
<rect x="1256" y="373" width="5" height="4" fill="#FF4500"/>
<rect x="1266" y="356" width="1" height="25" fill="#FF4500"/>
<rect x="1264" y="365" width="5" height="9" fill="#FF4500"/>
<rect x="1274" y="351" width="1" height="43" fill="#FF4500"/>
<rect x="1272" y="365" width="5" height="1" fill="#FF4500"/>
<rect x="1282" y="351" width="1" height="38" fill="#32CD32"/>
<rect x="1280" y="364" width="5" height="12" fill="#32CD32"/>
<rect x="1290" y="318" width="1" height="84" fill="#FF4500"/>
<rect x="1288" y="337" width="5" height="39" fill="#FF4500"/>
<rect x="1298" y="322" width="1" height="28" fill="#FF4500"/>
<rect x="1296" y="329" width="5" height="10" fill="#FF4500"/>
<rect x="1306" y="323" width="1" height="8" fill="#FF4500"/>
<rect x="1304" y="327" width="5" height="3" fill="#FF4500"/>
<rect x="2" y="544" width="1" height="21" fill="#c0c0c0"/>
<rect x="10" y="544" width="1" height="22" fill="#c0c0c0"/>
<rect x="18" y="544" width="1" height="24" fill="#c0c0c0"/>
<rect x="26" y="544" width="1" height="26" fill="#c0c0c0"/>
<rect x="34" y="544" width="1" height="27" fill="#c0c0c0"/>
<rect x="42" y="544" width="1" height="26" fill="#c0c0c0"/>
<rect x="50" y="544" width="1" height="25" fill="#c0c0c0"/>
<rect x="58" y="544" width="1" height="28" fill="#c0c0c0"/>
<rect x="66" y="544" width="1" height="26" fill="#c0c0c0"/>
<rect x="74" y="544" width="1" height="25" fill="#c0c0c0"/>
<rect x="82" y="544" width="1" height="24" fill="#c0c0c0"/>
<rect x="90" y="544" width="1" height="23" fill="#c0c0c0"/>
<rect x="98" y="544" width="1" height="22" fill="#c0c0c0"/>
<rect x="106" y="544" width="1" height="20" fill="#c0c0c0"/>
<rect x="114" y="544" width="1" height="18" fill="#c0c0c0"/>
<rect x="122" y="544" width="1" height="16" fill="#c0c0c0"/>
<rect x="130" y="544" width="1" height="12" fill="#c0c0c0"/>
<rect x="138" y="544" width="1" height="9" fill="#c0c0c0"/>
<rect x="146" y="544" width="1" height="8" fill="#c0c0c0"/>
<rect x="154" y="544" width="1" height="8" fill="#c0c0c0"/>
<rect x="162" y="544" width="1" height="7" fill="#c0c0c0"/>
<rect x="170" y="544" width="1" height="6" fill="#c0c0c0"/>
<rect x="178" y="544" width="1" height="4" fill="#c0c0c0"/>
<rect x="186" y="544" width="1" height="3" fill="#c0c0c0"/>
<rect x="194" y="544" width="1" height="4" fill="#c0c0c0"/>
<rect x="202" y="544" width="1" height="3" fill="#c0c0c0"/>
<rect x="210" y="544" width="1" height="2" fill="#c0c0c0"/>
<rect x="218" y="544" width="1" height="2" fill="#c0c0c0"/>
<rect x="226" y="544" width="1" height="1" fill="#c0c0c0"/>
<rect x="234" y="544" width="1" height="1" fill="#c0c0c0"/>
<rect x="242" y="544" width="1" height="1" fill="#c0c0c0"/>
<rect x="250" y="544" width="1" height="1" fill="#c0c0c0"/>
<rect x="258" y="544" width="1" height="1" fill="#c0c0c0"/>
<rect x="266" y="544" width="1" height="1" fill="#c0c0c0"/>
<rect x="274" y="544" width="1" height="1" fill="#c0c0c0"/>
<rect x="282" y="544" width="1" height="1" fill="#c0c0c0"/>
<rect x="290" y="544" width="1" height="1" fill="#c0c0c0"/>
<rect x="298" y="544" width="1" height="1" fill="#c0c0c0"/>
<rect x="306" y="544" width="1" height="1" fill="#c0c0c0"/>
<rect x="314" y="544" width="1" height="1" fill="#c0c0c0"/>
<rect x="322" y="544" width="1" height="1" fill="#c0c0c0"/>
<rect x="330" y="544" width="1" height="1" fill="#c0c0c0"/>
<rect x="338" y="544" width="1" height="1" fill="#c0c0c0"/>
<rect x="346" y="544" width="1" height="2" fill="#c0c0c0"/>
<rect x="354" y="544" width="1" height="2" fill="#c0c0c0"/>
<rect x="362" y="544" width="1" height="2" fill="#c0c0c0"/>
<rect x="370" y="544" width="1" height="2" fill="#c0c0c0"/>
<rect x="378" y="544" width="1" height="1" fill="#c0c0c0"/>
<rect x="386" y="544" width="1" height="2" fill="#c0c0c0"/>
<rect x="394" y="544" width="1" height="2" fill="#c0c0c0"/>
<rect x="402" y="544" width="1" height="1" fill="#c0c0c0"/>
<rect x="410" y="544" width="1" height="1" fill="#c0c0c0"/>
<rect x="418" y="544" width="1" height="1" fill="#c0c0c0"/>
<rect x="434" y="542" width="1" height="2" fill="#c0c0c0"/>
<rect x="442" y="540" width="1" height="4" fill="#c0c0c0"/>
<rect x="450" y="537" width="1" height="7" fill="#c0c0c0"/>
<rect x="458" y="536" width="1" height="8" fill="#c0c0c0"/>
<rect x="466" y="534" width="1" height="10" fill="#c0c0c0"/>
<rect x="474" y="532" width="1" height="12" fill="#c0c0c0"/>
<rect x="482" y="530" width="1" height="14" fill="#c0c0c0"/>
<rect x="490" y="529" width="1" height="15" fill="#c0c0c0"/>
<rect x="498" y="529" width="1" height="15" fill="#c0c0c0"/>
<rect x="506" y="529" width="1" height="15" fill="#c0c0c0"/>
<rect x="514" y="529" width="1" height="15" fill="#c0c0c0"/>
<rect x="522" y="528" width="1" height="16" fill="#c0c0c0"/>
<rect x="530" y="526" width="1" height="18" fill="#c0c0c0"/>
<rect x="538" y="526" width="1" height="18" fill="#c0c0c0"/>
<rect x="546" y="525" width="1" height="19" fill="#c0c0c0"/>
<rect x="554" y="525" width="1" height="19" fill="#c0c0c0"/>
<rect x="562" y="526" width="1" height="18" fill="#c0c0c0"/>
<rect x="570" y="529" width="1" height="15" fill="#c0c0c0"/>
<rect x="578" y="535" width="1" height="9" fill="#c0c0c0"/>
<rect x="586" y="539" width="1" height="5" fill="#c0c0c0"/>
<rect x="594" y="541" width="1" height="3" fill="#c0c0c0"/>
<rect x="602" y="543" width="1" height="1" fill="#c0c0c0"/>
<rect x="618" y="544" width="1" height="2" fill="#c0c0c0"/>
<rect x="626" y="544" width="1" height="2" fill="#c0c0c0"/>
<rect x="634" y="544" width="1" height="4" fill="#c0c0c0"/>
<rect x="642" y="544" width="1" height="4" fill="#c0c0c0"/>
<rect x="650" y="544" width="1" height="7" fill="#c0c0c0"/>
<rect x="658" y="544" width="1" height="9" fill="#c0c0c0"/>
<rect x="666" y="544" width="1" height="11" fill="#c0c0c0"/>
<rect x="674" y="544" width="1" height="12" fill="#c0c0c0"/>
<rect x="682" y="544" width="1" height="12" fill="#c0c0c0"/>
<rect x="690" y="544" width="1" height="13" fill="#c0c0c0"/>
<rect x="698" y="544" width="1" height="15" fill="#c0c0c0"/>
<rect x="706" y="544" width="1" height="17" fill="#c0c0c0"/>
<rect x="714" y="544" width="1" height="21" fill="#c0c0c0"/>
<rect x="722" y="544" width="1" height="24" fill="#c0c0c0"/>
<rect x="730" y="544" width="1" height="26" fill="#c0c0c0"/>
<rect x="738" y="544" width="1" height="28" fill="#c0c0c0"/>
<rect x="746" y="544" width="1" height="31" fill="#c0c0c0"/>
<rect x="754" y="544" width="1" height="32" fill="#c0c0c0"/>
<rect x="762" y="544" width="1" height="29" fill="#c0c0c0"/>
<rect x="770" y="544" width="1" height="27" fill="#c0c0c0"/>
<rect x="778" y="544" width="1" height="24" fill="#c0c0c0"/>
<rect x="786" y="544" width="1" height="22" fill="#c0c0c0"/>
<rect x="794" y="544" width="1" height="21" fill="#c0c0c0"/>
<rect x="802" y="544" width="1" height="18" fill="#c0c0c0"/>
<rect x="810" y="544" width="1" height="13" fill="#c0c0c0"/>
<rect x="818" y="544" width="1" height="8" fill="#c0c0c0"/>
<rect x="826" y="544" width="1" height="5" fill="#c0c0c0"/>
<rect x="834" y="544" width="1" height="2" fill="#c0c0c0"/>
<rect x="842" y="544" width="1" height="1" fill="#c0c0c0"/>
<rect x="850" y="542" width="1" height="2" fill="#c0c0c0"/>
<rect x="858" y="539" width="1" height="5" fill="#c0c0c0"/>
<rect x="866" y="536" width="1" height="8" fill="#c0c0c0"/>
<rect x="874" y="535" width="1" height="9" fill="#c0c0c0"/>
<rect x="882" y="533" width="1" height="11" fill="#c0c0c0"/>
<rect x="890" y="532" width="1" height="12" fill="#c0c0c0"/>
<rect x="898" y="532" width="1" height="12" fill="#c0c0c0"/>
<rect x="906" y="532" width="1" height="12" fill="#c0c0c0"/>
<rect x="914" y="533" width="1" height="11" fill="#c0c0c0"/>
<rect x="922" y="532" width="1" height="12" fill="#c0c0c0"/>
<rect x="930" y="533" width="1" height="11" fill="#c0c0c0"/>
<rect x="938" y="534" width="1" height="10" fill="#c0c0c0"/>
<rect x="946" y="536" width="1" height="8" fill="#c0c0c0"/>
<rect x="954" y="537" width="1" height="7" fill="#c0c0c0"/>
<rect x="962" y="540" width="1" height="4" fill="#c0c0c0"/>
<rect x="970" y="543" width="1" height="1" fill="#c0c0c0"/>
<rect x="1002" y="543" width="1" height="1" fill="#c0c0c0"/>
<rect x="1010" y="542" width="1" height="2" fill="#c0c0c0"/>
<rect x="1018" y="541" width="1" height="3" fill="#c0c0c0"/>
<rect x="1026" y="540" width="1" height="4" fill="#c0c0c0"/>
<rect x="1034" y="540" width="1" height="4" fill="#c0c0c0"/>
<rect x="1042" y="540" width="1" height="4" fill="#c0c0c0"/>
<rect x="1050" y="540" width="1" height="4" fill="#c0c0c0"/>
<rect x="1058" y="540" width="1" height="4" fill="#c0c0c0"/>
<rect x="1066" y="538" width="1" height="6" fill="#c0c0c0"/>
<rect x="1074" y="537" width="1" height="7" fill="#c0c0c0"/>
<rect x="1082" y="538" width="1" height="6" fill="#c0c0c0"/>
<rect x="1090" y="538" width="1" height="6" fill="#c0c0c0"/>
<rect x="1098" y="540" width="1" height="4" fill="#c0c0c0"/>
<rect x="1106" y="543" width="1" height="1" fill="#c0c0c0"/>
<rect x="1138" y="544" width="1" height="4" fill="#c0c0c0"/>
<rect x="1146" y="544" width="1" height="8" fill="#c0c0c0"/>
<rect x="1154" y="544" width="1" height="10" fill="#c0c0c0"/>
<rect x="1162" y="544" width="1" height="11" fill="#c0c0c0"/>
<rect x="1170" y="544" width="1" height="12" fill="#c0c0c0"/>
<rect x="1178" y="544" width="1" height="11" fill="#c0c0c0"/>
<rect x="1186" y="544" width="1" height="10" fill="#c0c0c0"/>
<rect x="1194" y="544" width="1" height="9" fill="#c0c0c0"/>
<rect x="1202" y="544" width="1" height="9" fill="#c0c0c0"/>
<rect x="1210" y="544" width="1" height="9" fill="#c0c0c0"/>
<rect x="1218" y="544" width="1" height="7" fill="#c0c0c0"/>
<rect x="1226" y="544" width="1" height="6" fill="#c0c0c0"/>
<rect x="1234" y="544" width="1" height="6" fill="#c0c0c0"/>
<rect x="1242" y="544" width="1" height="7" fill="#c0c0c0"/>
<rect x="1250" y="544" width="1" height="8" fill="#c0c0c0"/>
<rect x="1258" y="544" width="1" height="9" fill="#c0c0c0"/>
<rect x="1266" y="544" width="1" height="9" fill="#c0c0c0"/>
<rect x="1274" y="544" width="1" height="9" fill="#c0c0c0"/>
<rect x="1282" y="544" width="1" height="9" fill="#c0c0c0"/>
<rect x="1290" y="544" width="1" height="8" fill="#c0c0c0"/>
<rect x="1298" y="544" width="1" height="8" fill="#c0c0c0"/>
<rect x="1306" y="544" width="1" height="7" fill="#c0c0c0"/>
</g>
<path d="M2 562.5h1M6 563.5h3M12 563.5h2M14 564.5h1M18 564.5h3M24 565.5h3M30 565.5h1M31 566.5h2M36 566.5h3M42 567.5h3M48 568.5h3M54 568.5h1M55 569.5h2M60 569.5h3M66 570.5h3M72 570.5h3M78 570.5h3M84 570.5h3M90 570.5h3M96 570.5h3M102 570.5h1M103 569.5h2M108 569.5h3M114 568.5h3M120 567.5h3M126 566.5h2M128 565.5h1M132 564.5h3M138 563.5h2M140 562.5h1M144 561.5h3M150 560.5h3M156 559.5h1M157 558.5h2M162 557.5h3M168 556.5h3M174 555.5h2M176 554.5h1M180 554.5h1M181 553.5h2M186 552.5h3M192 551.5h3M198 550.5h3M204 550.5h3M210 550.5h3M216 549.5h3M222 549.5h3M228 548.5h3M234 548.5h2M236 547.5h1M240 547.5h3M246 547.5h3M252 547.5h1M253 546.5h2M258 546.5h3M264 546.5h3M270 546.5h3M276 546.5h3M282 545.5h3M288 545.5h3M294 545.5h3M300 545.5h3M306 545.5h3M312 545.5h3M318 545.5h3M324 545.5h3M330 545.5h3M336 544.5h3M342 544.5h3M348 544.5h3M354 545.5h3M360 545.5h3M366 545.5h3M372 545.5h3M378 545.5h3M384 545.5h3M390 545.5h3M396 545.5h3M402 545.5h3M408 545.5h3M414 545.5h3M420 545.5h3M426 545.5h3M432 545.5h1M433 544.5h2M438 544.5h3M444 543.5h3M450 543.5h2M452 542.5h1M456 542.5h2M458 541.5h1M462 541.5h1M463 540.5h2M468 540.5h1M469 539.5h2M474 538.5h3M480 537.5h3M486 536.5h1M487 535.5h2M492 534.5h3M498 533.5h3M504 532.5h3M510 531.5h3M516 530.5h3M522 530.5h1M523 529.5h2M528 529.5h3M534 528.5h3M540 527.5h3M546 527.5h1M547 526.5h2M552 526.5h3M558 526.5h3M564 526.5h3M570 526.5h3M576 526.5h3M582 527.5h3M588 528.5h3M594 529.5h3M600 530.5h3M606 531.5h1M607 532.5h2M612 533.5h1M613 534.5h2M618 535.5h1M619 536.5h2M624 537.5h1M625 538.5h2M630 539.5h1M631 540.5h2M636 541.5h2M638 542.5h1M642 542.5h1M643 543.5h2M648 544.5h3M654 545.5h3M660 546.5h1M661 547.5h2M666 548.5h3M672 549.5h2M674 550.5h1M678 550.5h2M680 551.5h1M684 551.5h2M686 552.5h1M690 552.5h2M692 553.5h1M696 553.5h2M698 554.5h1M702 554.5h2M704 555.5h1M708 555.5h2M710 556.5h1M714 556.5h1M715 557.5h2M720 558.5h3M726 559.5h1M727 560.5h2M732 561.5h3M738 563.5h3M744 564.5h2M746 565.5h1M750 566.5h3M756 567.5h3M762 568.5h3M768 569.5h2M770 570.5h1M774 570.5h1M775 571.5h2M780 571.5h3M786 571.5h3M792 571.5h3M798 570.5h3M804 569.5h3M810 568.5h1M811 567.5h2M816 566.5h2M818 565.5h1M822 564.5h3M828 563.5h1M829 562.5h2M834 561.5h1M835 560.5h2M840 559.5h1M841 558.5h2M846 556.5h1M847 555.5h2M852 553.5h1M853 552.5h2M858 550.5h2M860 549.5h1M864 547.5h3M870 545.5h2M872 544.5h1M876 543.5h1M877 542.5h2M882 541.5h1M883 540.5h2M888 539.5h1M889 538.5h2M894 537.5h3M900 536.5h3M906 535.5h2M908 534.5h1M912 534.5h2M914 533.5h1M918 533.5h3M924 532.5h3M930 532.5h3M936 532.5h3M942 532.5h3M948 532.5h3M954 532.5h3M960 532.5h3M966 533.5h3M972 534.5h3M978 535.5h2M980 536.5h1M984 536.5h2M986 537.5h1M990 537.5h1M991 538.5h2M996 539.5h3M1002 539.5h1M1003 540.5h2M1008 540.5h3M1014 540.5h1M1015 541.5h2M1020 541.5h3M1026 541.5h3M1032 541.5h3M1038 541.5h3M1044 541.5h3M1050 540.5h3M1056 540.5h3M1062 539.5h3M1068 539.5h2M1070 538.5h1M1074 538.5h3M1080 538.5h3M1086 538.5h3M1092 538.5h3M1098 538.5h3M1104 538.5h3M1110 538.5h3M1116 538.5h1M1117 539.5h2M1122 539.5h3M1128 539.5h1M1129 540.5h2M1134 540.5h2M1136 541.5h1M1140 541.5h3M1146 542.5h2M1148 543.5h1M1152 544.5h3M1158 545.5h2M1160 546.5h1M1164 546.5h1M1165 547.5h2M1170 548.5h3M1176 549.5h3M1182 550.5h1M1183 551.5h2M1188 551.5h2M1190 552.5h1M1194 552.5h3M1200 553.5h3M1206 553.5h3M1212 553.5h3M1218 554.5h3M1224 553.5h3M1230 552.5h3M1236 552.5h3M1242 552.5h3M1248 552.5h3M1254 552.5h3M1260 552.5h3M1266 552.5h3M1272 552.5h3M1278 552.5h3M1284 552.5h3M1290 552.5h3M1296 552.5h3M1302 552.5h3" fill="none" stroke="#FF0000" stroke-width="1" shape-rendering="crispEdges" />
<g shape-rendering="crispEdges">
<path d="M2 619.5 H1658 M2 669.5 H1658" stroke="#c0c0c0" stroke-width="1" stroke-dasharray="3,3"/>
</g>
<path d="M2 660.5h3M5 661.5h4M9 662.5h3M12 663.5h3M15 664.5h3M18 665.5h2M20 664.5h2M22 663.5h2M24 662.5h2M26 661.5h6M32 662.5h5M37 661.5h4M41 660.5h3M44 661.5h2M46 662.5h2M48 663.5h2M50 664.5h10M60 663.5h1M61 662.5h2M63 661.5h2M65 660.5h1M66 659.5h5M71 660.5h7M78 659.5h5M83 658.5h2M85 657.5h2M87 656.5h1M88 655.5h2M90 654.5h4M94 653.5h8M102 654.5h4M106 655.5h9M115 654.5h1M116.5 652v2M117 651.5h1M118.5 649v2M119 648.5h1M120.5 646v2M121 645.5h1M122.5 643v2M123 642.5h1M124 641.5h1M125 640.5h1M126 639.5h1M127 638.5h1M128.5 636v2M129 635.5h1M130 634.5h1M131.5 634v2M132 636.5h1M133 637.5h1M134.5 638v2M135 640.5h1M136 641.5h1M137 642.5h1M138 643.5h1M139 644.5h1M140 645.5h3M143 646.5h3M146 647.5h6M152 648.5h8M160 649.5h3M163 648.5h1M164 647.5h1M165 646.5h1M166 645.5h1M167 644.5h1M168 643.5h1M169 642.5h1M170 641.5h2M172 640.5h2M174 639.5h3M177 638.5h2M179.5 639v2M180.5 641v2M181.5 643v2M182 645.5h1M183.5 646v2M184.5 648v2M185.5 650v2M186 652.5h1M187 653.5h1M188 654.5h2M190 655.5h2M192 656.5h2M194 657.5h1M195.5 655v2M196.5 653v2M197.5 650v3M198.5 648v2M199.5 646v2M200.5 644v2M201.5 642v2M202 641.5h1M203 640.5h4M207 641.5h4M211 642.5h25M236 643.5h2M238 644.5h1M239 645.5h2M241 646.5h1M242 647.5h26M268 646.5h2M270 645.5h3M273 644.5h2M275 643.5h2M277 642.5h1M278 641.5h2M280 640.5h2M282 639.5h2M284 640.5h2M286 641.5h2M288 642.5h2M290 643.5h6M296 644.5h5M301 643.5h3M304 642.5h9M313 643.5h7M320 644.5h3M323 643.5h1M324 642.5h1M325 641.5h1M326 640.5h1M327 639.5h1M328 638.5h1M329 637.5h1M330 636.5h1M331.5 636v3M332.5 639v2M333.5 641v2M334.5 643v3M335.5 646v2M336.5 648v2M337.5 650v3M338 653.5h1M339 654.5h5M344 655.5h4M348 654.5h2M350 653.5h2M352 652.5h2M354 651.5h6M360 650.5h3M363 649.5h1M364 648.5h1M365 647.5h1M366 646.5h1M367 645.5h1M368 644.5h1M369 643.5h1M370 642.5h3M373 643.5h3M376 644.5h2M378 645.5h12M390 644.5h5M395 643.5h2M397 642.5h2M399 641.5h1M400 640.5h2M402 639.5h10M412 640.5h1M413 641.5h2M415 642.5h2M417 643.5h1M418 644.5h2M420 643.5h3M423 642.5h3M426 641.5h1M427 640.5h1M428.5 638v2M429 637.5h1M430.5 635v2M431.5 633v2M432 632.5h1M433.5 630v2M434 629.5h1M435 628.5h3M438 627.5h4M442 626.5h5M447 625.5h6M453 624.5h8M461 623.5h7M468 622.5h2M470 621.5h3M473 620.5h2M475 619.5h5M480 618.5h4M484 619.5h1M485 620.5h1M486 621.5h1M487 622.5h1M488 623.5h1M489 624.5h1M490 625.5h1M491 626.5h3M494 625.5h6M500 624.5h6M506 623.5h1M507 624.5h2M509 625.5h2M511 626.5h2M513 627.5h3M516 626.5h2M518 625.5h1M519 624.5h1M520 623.5h1M521 622.5h1M522 621.5h1M523 620.5h2M525 619.5h2M527 618.5h2M529 617.5h6M535 618.5h3M538 619.5h3M541 620.5h2M543 621.5h3M546 622.5h3M549 621.5h4M553 620.5h3M556 621.5h1M557 622.5h1M558 623.5h1M559 624.5h1M560 625.5h1M561 626.5h1M562.5 627v2M563.5 629v4M564.5 633v3M565.5 636v3M566.5 639v3M567.5 642v3M568.5 645v4M569.5 649v3M570.5 652v2M571 654.5h2M573 655.5h2M575 656.5h2M577 657.5h2M579 658.5h1M580 657.5h2M582 656.5h3M585 655.5h2M587 654.5h3M590 653.5h3M593 652.5h5M598 653.5h5M603 654.5h5M608 655.5h4M612 654.5h2M614 653.5h2M616 652.5h2M618 651.5h2M620 652.5h2M622 653.5h2M624 654.5h2M626 655.5h2M628 654.5h3M631 653.5h3M634 652.5h10M644 653.5h1M645 654.5h1M646 655.5h1M647 656.5h1M648 657.5h1M649 658.5h1M650 659.5h1M651 660.5h2M653 661.5h2M655 662.5h2M657 663.5h2M659 664.5h5M664 665.5h3M667 664.5h1M668 663.5h1M669 662.5h1M670 661.5h1M671 660.5h1M672.5 658v2M673 657.5h1M674 656.5h3M677 657.5h2M679 658.5h3M682 659.5h2M684 660.5h2M686 661.5h2M688 662.5h2M690 663.5h6M696 664.5h4M700 665.5h2M702 666.5h2M704 667.5h2M706 668.5h1M707 669.5h1M708 670.5h1M709.5 671v2M710 673.5h1M711 674.5h1M712 675.5h1M713 676.5h1M714 677.5h1M715 678.5h1M716 677.5h1M717 676.5h1M718 675.5h1M719 674.5h1M720 673.5h1M721 672.5h1M722 671.5h3M725 670.5h7M732 671.5h2M734 672.5h1M735 673.5h1M736 674.5h1M737 675.5h2M739 676.5h5M744 677.5h3M747 676.5h1M748 675.5h1M749 674.5h1M750 673.5h1M751 672.5h1M752 671.5h1M753 670.5h1M754.5 668v2M755.5 666v2M756.5 663v3M757.5 661v2M758.5 658v3M759.5 656v2M760.5 653v3M761.5 651v2M762 650.5h1M763 649.5h3M766 650.5h3M769 651.5h12M781 652.5h2M783 653.5h2M785 654.5h4M789 653.5h1M790 652.5h2M792 651.5h1M793 650.5h2M795 649.5h2M797 648.5h2M799 647.5h1M800 646.5h2M802 645.5h1M803 644.5h1M804 643.5h1M805 642.5h1M806.5 640v2M807 639.5h1M808 638.5h1M809 637.5h1M810 636.5h1M811 635.5h10M821 634.5h11M832 635.5h11M843 634.5h2M845 633.5h2M847 632.5h2M849 631.5h2M851 630.5h1M852 629.5h2M854 628.5h2M856 627.5h2M858 626.5h2M860 627.5h1M861 628.5h2M863 629.5h1M864 630.5h2M866 631.5h5M871 630.5h4M875 629.5h5M880 628.5h6M886 629.5h5M891 630.5h5M896 631.5h3M899 632.5h2M901 633.5h1M902 634.5h2M904 635.5h1M905 636.5h1M906 637.5h2M908 636.5h3M911 635.5h2M913 634.5h3M916 633.5h4M920 632.5h5M925 633.5h2M927 634.5h3M930 635.5h2M932 636.5h1M933 637.5h2M935 638.5h1M936 639.5h2M938 640.5h1M939 641.5h2M941 642.5h1M942 643.5h2M944 644.5h1M945 645.5h2M947 646.5h9M956 647.5h1M957 648.5h1M958 649.5h1M959 650.5h1M960 651.5h2M962 652.5h1M963 653.5h6M969 654.5h7M976 655.5h3M979 654.5h1M980 653.5h1M981 652.5h1M982 651.5h1M983.5 649v2M984 648.5h1M985 647.5h1M986 646.5h1M987.5 644v2M988 643.5h1M989 642.5h1M990.5 640v2M991 639.5h1M992 638.5h1M993 637.5h1M994 636.5h1M995 635.5h1M996 636.5h2M998 637.5h1M999 638.5h2M1001 639.5h2M1003 640.5h1M1004 639.5h2M1006 638.5h2M1008 637.5h2M1010 636.5h2M1012 635.5h2M1014 634.5h3M1017 633.5h3M1020 634.5h2M1022 635.5h1M1023 636.5h2M1025 637.5h2M1027 638.5h1M1028 637.5h2M1030 636.5h2M1032 635.5h2M1034 634.5h2M1036.5 635v2M1037 637.5h1M1038 638.5h1M1039 639.5h1M1040 640.5h1M1041 641.5h1M1042 642.5h3M1045 641.5h1M1046 640.5h1M1047 639.5h2M1049 638.5h1M1050 637.5h6M1056 638.5h4M1060 637.5h1M1061 636.5h2M1063 635.5h1M1064 634.5h2M1066 633.5h2M1068 634.5h2M1070 635.5h2M1072 636.5h2M1074 637.5h17M1091.5 638v2M1092.5 640v2M1093.5 642v3M1094.5 645v2M1095.5 647v2M1096.5 649v2M1097.5 651v3M1098 654.5h1M1099 655.5h17M1116 654.5h4M1120 653.5h3M1123 652.5h1M1124 651.5h1M1125.5 649v2M1126 648.5h1M1127 647.5h1M1128 646.5h1M1129 645.5h1M1130 644.5h1M1131.5 644v3M1132.5 647v2M1133.5 649v2M1134.5 651v3M1135.5 654v2M1136.5 656v2M1137.5 658v3M1138 661.5h1M1139 662.5h9M1148 661.5h3M1151 660.5h3M1154 659.5h4M1158 658.5h6M1164 657.5h4M1168 656.5h3M1171 655.5h2M1173 654.5h2M1175 653.5h1M1176 652.5h2M1178 651.5h1M1179 650.5h2M1181 649.5h2M1183 648.5h1M1184 647.5h2M1186 646.5h4M1190 647.5h4M1194 648.5h14M1208 649.5h4M1212 648.5h1M1213 647.5h2M1215 646.5h1M1216 645.5h2M1218 644.5h3M1221 645.5h3M1224 646.5h2M1226 647.5h3M1229 646.5h6M1235 647.5h1M1236.5 648v2M1237.5 650v2M1238.5 652v2M1239.5 654v2M1240 656.5h1M1241.5 657v2M1242 659.5h1M1243 660.5h11M1254 659.5h6M1260 658.5h2M1262 657.5h3M1265 656.5h13M1278 657.5h4M1282 658.5h1M1283 657.5h1M1284.5 655v2M1285 654.5h1M1286.5 652v2M1287 651.5h1M1288 650.5h1M1289.5 648v2M1290 647.5h1M1291 646.5h5M1296 645.5h6M1302 644.5h5" fill="none" stroke="#1E90FF" stroke-width="1" shape-rendering="crispEdges" />
<g shape-rendering="crispEdges" fill="#000">
<rect x="1" y="38" width="1658" height="1"/><rect x="1" y="518" width="1658" height="1"/><rect x="1" y="38" width="1" height="481"/><rect x="1658" y="38" width="1" height="481"/>
<rect x="1" y="520" width="1660" height="1"/>
<rect x="1" y="579" width="1660" height="1"/>
<rect x="1" y="520" width="1" height="60"/>
<rect x="1658" y="520" width="1" height="60"/>
<rect x="1" y="581" width="1660" height="1"/><rect x="1" y="706" width="1660" height="1"/><rect x="1" y="581" width="1" height="126"/><rect x="1658" y="581" width="1" height="126"/>
<rect x="1659" y="58" width="2" height="1"/>
<rect x="1659" y="107" width="2" height="1"/>
<rect x="1659" y="156" width="2" height="1"/>
<rect x="1659" y="205" width="2" height="1"/>
<rect x="1659" y="254" width="2" height="1"/>
<rect x="1659" y="303" width="2" height="1"/>
<rect x="1659" y="352" width="2" height="1"/>
<rect x="1659" y="401" width="2" height="1"/>
<rect x="1659" y="450" width="2" height="1"/>
<rect x="1659" y="499" width="2" height="1"/>
<rect x="1659" y="544" width="2" height="1"/>
<rect x="2" y="707" width="1" height="3"/>
<rect x="98" y="707" width="1" height="3"/>
<rect x="194" y="707" width="1" height="3"/>
<rect x="290" y="707" width="1" height="3"/>
<rect x="386" y="707" width="1" height="3"/>
<rect x="482" y="707" width="1" height="3"/>
<rect x="578" y="707" width="1" height="3"/>
<rect x="674" y="707" width="1" height="3"/>
<rect x="770" y="707" width="1" height="3"/>
<rect x="866" y="707" width="1" height="3"/>
<rect x="962" y="707" width="1" height="3"/>
<rect x="1058" y="707" width="1" height="3"/>
<rect x="1154" y="707" width="1" height="3"/>
<rect x="1250" y="707" width="1" height="3"/>
<path d="M1320 39 H1332 L1326 45 Z" fill="#b0b0b0"/>
<rect x="1660" y="88" width="56" height="14" fill="#FF0000"/>
<rect x="1660" y="262" width="56" height="14" fill="#00FF00"/>
<rect x="1660" y="320" width="56" height="14" fill="#000"/>
<rect x="1660" y="407" width="56" height="14" fill="#0000FF"/>
<path d="M5 51 H14 L9.5 46 Z" fill="#000"/>
</g>
<text x="1665.4" y="62.4" textLength="44.8">1536.20</text>
<text x="1665.4" y="111.4" textLength="44.8">1527.80</text>
<text x="1665.4" y="160.4" textLength="44.8">1519.25</text>
<text x="1665.4" y="209.4" textLength="44.8">1510.85</text>
<text x="1665.4" y="258.4" textLength="44.8">1502.45</text>
<text x="1665.4" y="307.4" textLength="44.8">1493.90</text>
<text x="1665.4" y="356.4" textLength="44.8">1485.50</text>
<text x="1665.4" y="405.4" textLength="44.8">1477.10</text>
<text x="1665.4" y="454.4" textLength="44.8">1468.55</text>
<text x="1665.4" y="503.4" textLength="44.8">1460.15</text>
<text x="1665.4" y="100" textLength="44.8" style="fill:#fff">1530.00</text>
<text x="1665.4" y="274" textLength="44.8" style="fill:#fff">1500.00</text>
<text x="1665.4" y="332" textLength="44.8" style="fill:#fff">1489.81</text>
<text x="1665.4" y="419" textLength="44.8" style="fill:#fff">1475.00</text>
<text x="1662.5" y="533.7">8.223</text>
<text x="1662.5" y="548.8">0.00</text>
<text x="1662.5" y="575.7">-12.917</text>
<text x="1662.5" y="594.7">100</text>
<text x="1662.5" y="623.7">70</text>
<text x="1662.5" y="673.7">30</text>
<text x="1662.5" y="702.7">0</text>
<text x="20" y="53" textLength="68">XAUUSD-,H4</text>
<text x="97.3" y="53" textLength="194">1489.55 1490.55 1489.28 1489.81</text>
<text x="6" y="536" textLength="164.5">MACD(12,26,9) -2.617 -3.372</text>
<text x="6" y="597" textLength="91.5">RSI(14) 49.9066</text>
<text x="1.5" y="722">9 Sep 2019</text>
<text x="97.5" y="722">11 Sep 16:00</text>
<text x="193.5" y="722">13 Sep 16:00</text>
<text x="289.5" y="722">17 Sep 16:00</text>
<text x="385.5" y="722">19 Sep 16:00</text>
<text x="481.5" y="722">23 Sep 16:00</text>
<text x="577.5" y="722">25 Sep 16:00</text>
<text x="673.5" y="722">27 Sep 16:00</text>
<text x="769.5" y="722">1 Oct 16:00</text>
<text x="865.5" y="722">3 Oct 16:00</text>
<text x="961.5" y="722">7 Oct 16:00</text>
<text x="1057.5" y="722">9 Oct 16:00</text>
<text x="1153.5" y="722">11 Oct 16:00</text>
<text x="1249.5" y="722">15 Oct 16:00</text>
</svg>
<div id="oct"><div style="left:0;top:0;width:283px;height:76px;background:#fff"></div>
<div class="btn" style="left:0;width:68px"><span style="display:inline-block;transform:scaleX(.86)">SELL</span></div>
<div style="left:68px;top:0;width:148px;height:27px;background:#fff"></div>
<div style="left:70px;top:0;width:143px;height:25px;background:#fff;border:1px solid #b2b2b2"></div>
<div style="left:71px;top:1px;width:24px;height:23px;background:linear-gradient(#e6e6e6,#d4d4d4 48%,#c6c6c6 52%,#d6d6d6);border-right:1px solid #b8b8b8"></div>
<div style="left:188px;top:1px;width:24px;height:23px;background:linear-gradient(#e6e6e6,#d4d4d4 48%,#c6c6c6 52%,#d6d6d6);border-left:1px solid #b8b8b8"></div>
<div style="left:78.5px;top:10px;width:0;height:0;border:4px solid transparent;border-top:4px solid #5064c4;border-bottom:none"></div>
<div style="left:196.5px;top:9px;width:0;height:0;border:4px solid transparent;border-bottom:4px solid #5064c4;border-top:none"></div>
<div style="left:100px;top:0;width:85.5px;height:27px;line-height:25px;text-align:right;font-size:16px;color:#000">1.00</div>
<div class="btn" style="left:215.5px;width:67.5px"><span style="display:inline-block;transform:scaleX(.86)">BUY</span></div>
<div class="pr" style="left:0;width:141px"></div>
<div class="pr" style="left:143px;width:140px"></div>
<div style="left:4px;top:27px;width:60px;height:1px;background:#a01414"></div>
<div style="left:219px;top:27px;width:60px;height:1px;background:#a01414"></div>
<div style="left:1px;top:27px;width:3px;height:1px;background:#e03434"></div><div style="left:64px;top:27px;width:3px;height:1px;background:#e03434"></div>
<div style="left:217px;top:27px;width:3px;height:1px;background:#e03434"></div><div style="left:280px;top:27px;width:2px;height:1px;background:#e03434"></div>
<div class="sm" style="left:30.5px;color:#fff">1489</div>
<div class="bg" style="left:69.5px;color:#fff">80</div>
<div class="sm" style="left:172.5px;color:#fff">1490</div>
<div class="bg" style="left:213px;color:#fff">20</div>
</div>
<div id="cn">多空转折点<span>1500</span></div>
<div style="position:absolute;left:0;top:730px;width:1721px;height:1px;background:#e3e3e3"></div>
<div style="position:absolute;left:0;top:731px;width:1721px;height:1px;background:#f4f4f4"></div>
</body></html>
